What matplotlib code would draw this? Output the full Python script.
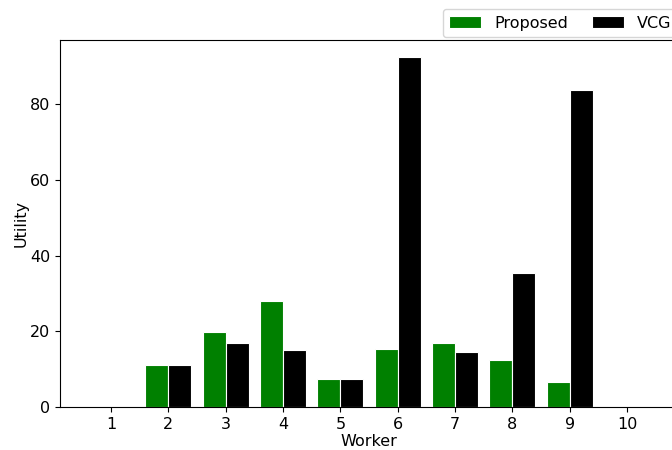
import matplotlib
matplotlib.use("Agg")
import matplotlib.pyplot as plt
import numpy as np

workers = [1, 2, 3, 4, 5, 6, 7, 8, 9, 10]
proposed = [0, 11.0, 19.8, 28.0, 7.4, 15.4, 17.0, 12.5, 6.6, 0]
vcg = [0, 11.0, 16.8, 15.0, 7.4, 92.4, 14.6, 35.5, 83.7, 0]

fig = plt.figure(figsize=(6.72, 4.5), dpi=100)
ax = fig.add_axes([60 / 672, 43 / 450, 618 / 672, 367 / 450])

x = np.array(workers)
w = 0.4
ax.bar(x - w / 2, proposed, width=w, color="green", edgecolor="white", linewidth=0.8, label="Proposed")
ax.bar(x + w / 2, vcg, width=w, color="black", edgecolor="white", linewidth=0.8, label="VCG")

ax.set_xticks(workers)
ax.tick_params(labelsize=11.5)
ax.set_xlabel("Worker", fontsize=11.5, labelpad=2)
ax.set_ylabel("Utility", fontsize=11.5, labelpad=1)

fig.legend(loc="lower left", bbox_to_anchor=(443 / 672, 413 / 450), ncol=2, fontsize=11.5,
           frameon=True, borderaxespad=0, columnspacing=1.5)

fig.savefig("out.png", dpi=100)
